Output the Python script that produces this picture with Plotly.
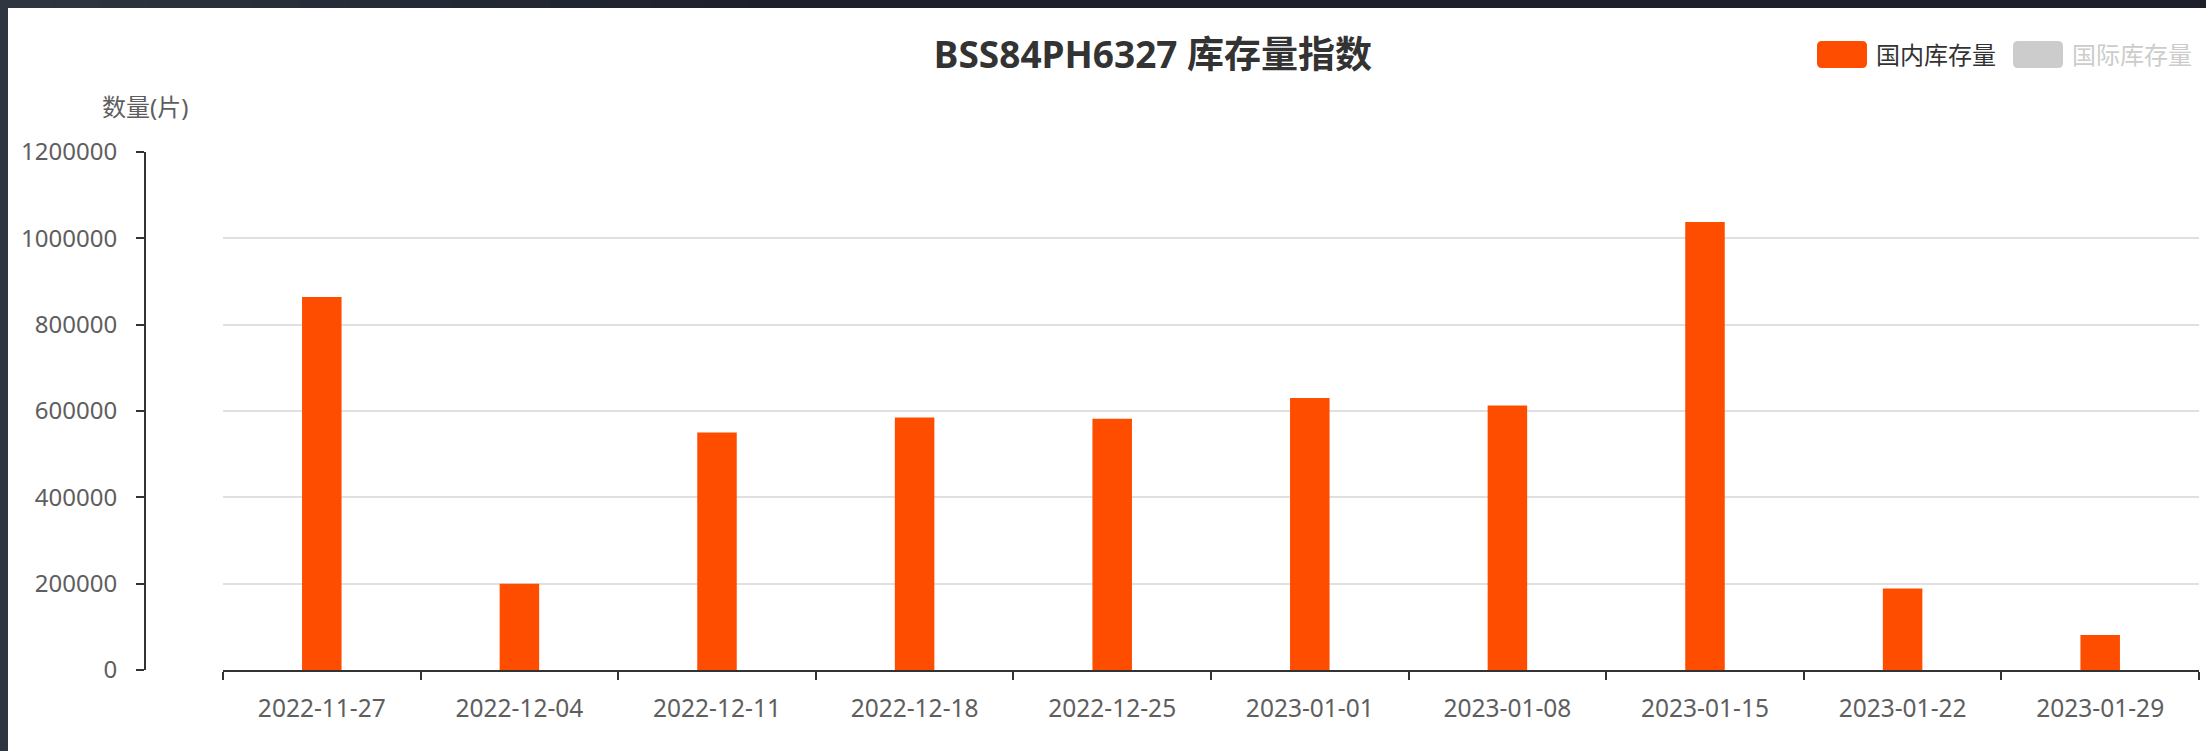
import plotly.graph_objects as go

# ---------------- data ----------------
dates = ["2022-11-27", "2022-12-04", "2022-12-11", "2022-12-18", "2022-12-25",
         "2023-01-01", "2023-01-08", "2023-01-15", "2023-01-22", "2023-01-29"]
domestic_stock = [864000, 200000, 550000, 585000, 582000,
                  630000, 613000, 1038000, 189000, 81000]
series_names = ["国内库存量", "国际库存量"]
y_tick_values = [0, 200000, 400000, 600000, 800000, 1000000, 1200000]
title_text = "BSS84PH6327 库存量指数"
y_axis_name = "数量(片)"

# ---------------- styles ----------------
BAR_COLOR = "#ff4d00"
HIDDEN_COLOR = "#cccccc"
AXIS_COLOR = "#333333"
LABEL_COLOR = "#5e5e5e"
GRID_COLOR = "#e0e0e0"
FONT = "Noto Sans, Noto Sans CJK SC, sans-serif"

W, H = 2206, 751
ML, MR, MT, MB = 120, 7, 152, 81
PW = W - ML - MR
PH = H - MT - MB


def px_x(px):
    return (px - ML) / PW


def px_y(py):
    return (H - MB - py) / PH


fig = go.Figure()
fig.add_trace(go.Bar(
    x=dates, y=domestic_stock, name=series_names[0],
    marker=dict(color=BAR_COLOR, line=dict(width=0)),
    showlegend=False,
))

shapes = []
annotations = []

# dark frame (top gradient band + left band)
dark_left = (0x2f, 0x36, 0x40)
dark_right = (0x1b, 0x20, 0x2b)
nseg = 16
seg_w = 800 / nseg
for i in range(nseg):
    t = i / (nseg - 1)
    c = tuple(round(dark_left[k] + (dark_right[k] - dark_left[k]) * t) for k in range(3))
    shapes.append(dict(type="rect", xref="paper", yref="paper", layer="above",
                       x0=px_x(i * seg_w), x1=px_x((i + 1) * seg_w + 1),
                       y0=px_y(8), y1=px_y(-2),
                       fillcolor="rgb(%d,%d,%d)" % c, line=dict(width=0)))
shapes.append(dict(type="rect", xref="paper", yref="paper", layer="above",
                   x0=px_x(800), x1=px_x(W + 2), y0=px_y(8), y1=px_y(-2),
                   fillcolor="rgb(%d,%d,%d)" % dark_right, line=dict(width=0)))
shapes.append(dict(type="rect", xref="paper", yref="paper", layer="above",
                   x0=px_x(-2), x1=px_x(8), y0=px_y(H + 2), y1=px_y(8),
                   fillcolor="rgb(%d,%d,%d)" % dark_left, line=dict(width=0)))


# manual legend (rounded swatches + text)
def rounded_rect(x0, y0, x1, y1, r):
    pts = [
        ("M", [(x0 + r, y0)]), ("L", [(x1 - r, y0)]), ("Q", [(x1, y0), (x1, y0 + r)]),
        ("L", [(x1, y1 - r)]), ("Q", [(x1, y1), (x1 - r, y1)]),
        ("L", [(x0 + r, y1)]), ("Q", [(x0, y1), (x0, y1 - r)]),
        ("L", [(x0, y0 + r)]), ("Q", [(x0, y0), (x0 + r, y0)]),
    ]
    s = ""
    for cmd, ps in pts:
        s += cmd + " ".join("%.6f,%.6f" % (px_x(a), px_y(b)) for a, b in ps)
    return s + "Z"


legend_items = [
    (series_names[0], BAR_COLOR, AXIS_COLOR, 1817),
    (series_names[1], HIDDEN_COLOR, HIDDEN_COLOR, 2013),
]
for name, sw_color, txt_color, x0 in legend_items:
    shapes.append(dict(type="path", xref="paper", yref="paper",
                       path=rounded_rect(x0, 41, x0 + 50, 68, 5),
                       fillcolor=sw_color, line=dict(width=0)))
    annotations.append(dict(text=name, xref="paper", yref="paper",
                            x=px_x(x0 + 57), y=px_y(54.5), xanchor="left", yanchor="middle",
                            showarrow=False, font=dict(family=FONT, size=24, color=txt_color)))

# y axis name
annotations.append(dict(text=y_axis_name, xref="paper", yref="paper",
                        x=px_x(144.5), y=px_y(106.5), xanchor="center", yanchor="middle",
                        showarrow=False, font=dict(family=FONT, size=24, color=LABEL_COLOR)))

fig.update_layout(
    width=W, height=H,
    margin=dict(l=ML, r=MR, t=MT, b=MB, pad=0),
    paper_bgcolor="white", plot_bgcolor="white",
    font=dict(family=FONT, size=24, color=LABEL_COLOR),
    title=dict(text=title_text, xref="container", yref="container",
               x=1153 / W, y=1 - 55 / H, xanchor="center", yanchor="middle",
               font=dict(family=FONT, size=37, color="#333333", weight="bold")),
    bargap=0.8,
    showlegend=False,
    shapes=shapes,
    annotations=annotations,
    xaxis=dict(
        type="category", domain=[px_x(223), 1],
        range=[-0.5, len(dates) - 0.5],
        showline=True, linecolor=AXIS_COLOR, linewidth=2,
        ticks="outside", tickson="boundaries", ticklen=8, tickwidth=2, tickcolor=AXIS_COLOR,
        showgrid=False, zeroline=False,
        tickfont=dict(family=FONT, size=24.5, color=LABEL_COLOR),
        ticklabelstandoff=16,
    ),
    yaxis=dict(
        anchor="free", position=px_x(145),
        range=[0, 1200000], tickvals=y_tick_values, tickformat="d",
        showline=True, linecolor=AXIS_COLOR, linewidth=2,
        ticks="outside", ticklen=8, tickwidth=2, tickcolor=AXIS_COLOR,
        showgrid=True, gridcolor=GRID_COLOR, gridwidth=2,
        zeroline=False,
        tickfont=dict(family=FONT, size=24, color=LABEL_COLOR),
        ticklabelstandoff=14,
    ),
)

fig.write_html("out.html", config={"displayModeBar": False},
               post_script="document.body.style.margin='0';document.body.style.overflow='hidden';")
